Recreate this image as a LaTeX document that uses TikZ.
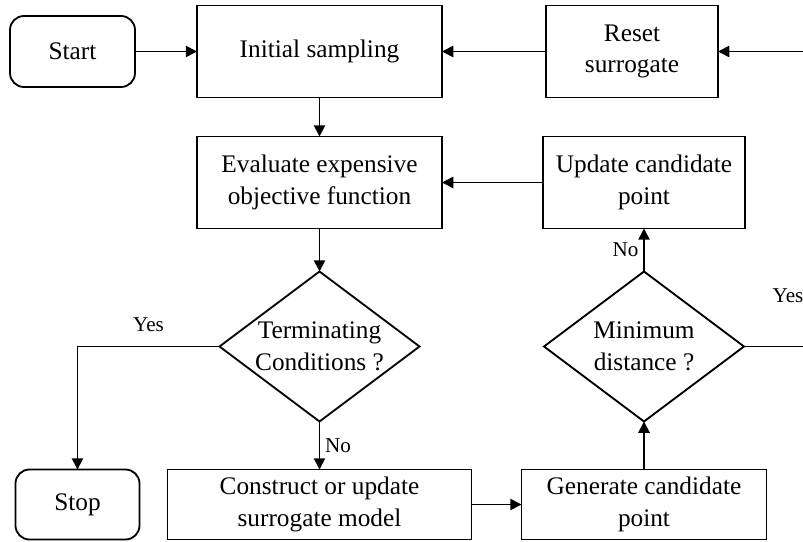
\documentclass[tikz,border=0pt]{standalone}
\usepackage{fontspec}
\setmainfont{Liberation Serif}
\usetikzlibrary{positioning,shapes.geometric,arrows.meta}

\begin{document}
\begin{tikzpicture}[
	font=\fontsize{18}{22.5}\selectfont,
	line width=1.3pt,
	proc/.style={draw, rectangle, align=center, minimum width=6.125cm, minimum height=2.3cm, inner sep=0pt, outer sep=0pt},
	endbox/.style={draw, rounded corners=0.35cm, align=center, minimum width=3.1cm, minimum height=1.75cm, outer sep=0pt},
	cond/.style={draw, diamond, aspect=1.333, align=center, minimum width=5cm, minimum height=3.75cm, inner sep=0pt, outer sep=0pt},
	flow/.style={-{Triangle[length=8pt,width=8pt]}},
	lbl/.style={font=\fontsize{15}{17}\selectfont}
	]
	\useasboundingbox (0,0) rectangle (20.075,-13.55);
	
	\node[endbox, minimum width=3.125cm, minimum height=1.775cm] (start) at (1.8125,-1.2875) {Start};
	\node[proc, right=1.55cm of start] (init) {Initial sampling};
	\node[proc, minimum width=4.3cm, right=2.6cm of init] (reset) {Reset\\surrogate};
	
	\node[proc, below=0.975cm of init] (eval) {Evaluate expensive\\objective function};
	\node[cond, below=1.075cm of eval] (tc) {Terminating\\Conditions ?};
	\node[proc, minimum width=7.6cm, minimum height=1.75cm, below=1.2cm of tc] (cons) {Construct or update\\surrogate model};
	\node[endbox, left=0.7cm of cons] (stop) {Stop};
	
	\node[proc, minimum height=1.75cm, right=1.25cm of cons] (gen) {Generate candidate\\point};
	\node[cond, above=1.2cm of gen] (md) {Minimum\\distance ?};
	\node[proc, minimum width=5.05cm, above=1.075cm of md] (upd) {Update candidate\\point};
	
	\coordinate[right=2.2cm of reset.east] (rin);
	\coordinate[right=2.2cm of md.east] (mdout);
	
	\draw[flow] (start) -- (init);
	\draw[flow] (rin) -- (reset);
	\draw[flow] (reset) -- (init);
	\draw[flow] (init) -- (eval);
	\draw[flow] (upd) -- (eval);
	\draw[flow] (eval) -- (tc);
	\draw[flow] (tc.west) -- node[lbl, above=0.22cm] {Yes} (tc.west -| stop) -- (stop);
	\draw[flow] (tc) -- node[lbl, right] {No} (cons);
	\draw[flow] (cons) -- (gen);
	\draw[flow] (gen) -- (md);
	\draw[flow] (md) -- node[lbl, left] {No} (upd);
	\draw (md.east) -- node[lbl, above=0.95cm] {Yes} (mdout);
\end{tikzpicture}
\end{document}
